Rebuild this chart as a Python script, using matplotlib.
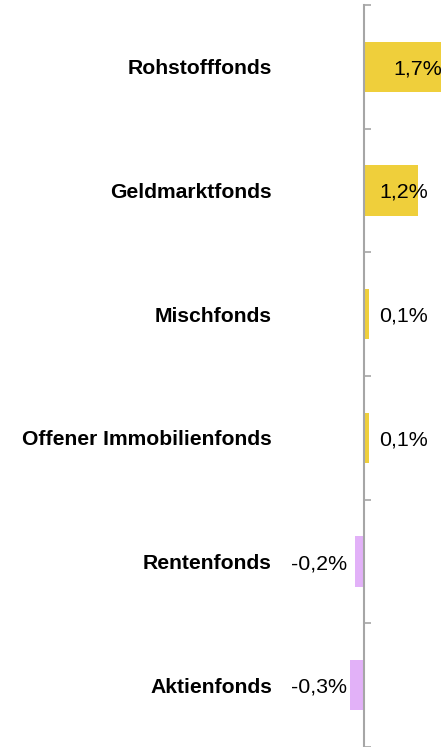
import matplotlib.pyplot as plt
import numpy as np

plt.rcParams['font.family'] = ['Liberation Sans', 'DejaVu Sans']

categories = ['Rohstofffonds', 'Geldmarktfonds', 'Mischfonds',
              'Offener Immobilienfonds', 'Rentenfonds', 'Aktienfonds']
values = [1.7, 1.2, 0.1, 0.1, -0.2, -0.3]
value_labels = ['1,7%', '1,2%', '0,1%', '0,1%', '-0,2%', '-0,3%']

yellow = '#EFCF3B'
pink = '#E2B1F8'
axis_gray = '#A6A6A6'

# label offsets from the zero line, in pixels
label_offsets = [29, 15, 15, 15, -17, -17]

fig = plt.figure(figsize=(4.44, 7.47), dpi=100)
ax = fig.add_axes([0, 0, 441 / 444, 742 / 747])

pos = np.arange(len(categories))
bar_colors = [yellow if v >= 0 else pink for v in values]
ax.barh(pos, values, height=0.405, color=bar_colors, zorder=2)

ax.set_xlim(-364 / 45.3, 77 / 45.3)
ax.set_ylim(len(categories) - 0.5, -0.5)

for s in ['top', 'right', 'bottom']:
    ax.spines[s].set_visible(False)
ax.spines['left'].set_position(('data', 0))
ax.spines['left'].set_color(axis_gray)
ax.spines['left'].set_linewidth(1.5)
ax.spines['left'].set_zorder(3)

ax.set_xticks([])
ax.set_yticks(np.arange(-0.5, len(categories), 1))
ax.set_yticklabels([])
ax.tick_params(axis='y', direction='in', length=5, width=1.2, color=axis_gray)

for i, name in enumerate(categories):
    ax.annotate(name, xy=(0, i), xytext=(-92, -2), textcoords='offset pixels',
                ha='right', va='center', fontsize=15.2, fontweight='bold')

for i, (v, lab) in enumerate(zip(values, value_labels)):
    off = label_offsets[i]
    ax.annotate(lab, xy=(0, i), xytext=(off, -2), textcoords='offset pixels',
                ha='left' if off > 0 else 'right', va='center', fontsize=15.4,
                zorder=4)

fig.savefig('out.png', dpi=100)
